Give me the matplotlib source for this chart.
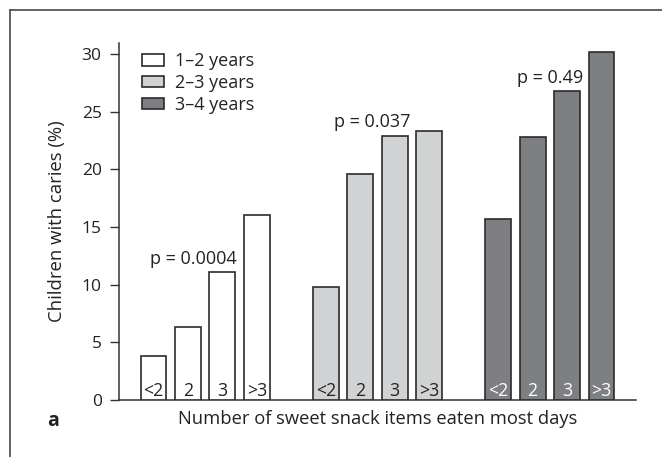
import matplotlib
matplotlib.use("Agg")
import matplotlib.pyplot as plt
from matplotlib.patches import Patch
from matplotlib.lines import Line2D

plt.rcParams['font.family'] = ['Open Sans', 'DejaVu Sans']

age_groups = ["1\u20132 years", "2\u20133 years", "3\u20134 years"]
snack_levels = ["<2", "2", "3", ">3"]
caries_pct = [
    [3.8, 6.3, 11.1, 16.0],
    [9.8, 19.6, 22.9, 23.3],
    [15.7, 22.8, 26.8, 30.2],
]
p_values = ["p = 0.0004", "p = 0.037", "p = 0.49"]
y_ticks = [0, 5, 10, 15, 20, 25, 30]

fills = ["#ffffff", "#d1d2d4", "#7e7f83"]
label_colors = ["#222222", "#222222", "#ffffff"]
edge = "#2b2b2b"
txt = "#222222"

W, H = 662, 457
fig = plt.figure(figsize=(W / 100, H / 100), dpi=100)

# outer panel frame (top and left edges)
fig.add_artist(Line2D([10 / W, 1.0], [1 - 10 / H, 1 - 10 / H], color="#555555", lw=1.3))
fig.add_artist(Line2D([10 / W, 10 / W], [0.0, 1 - 10 / H], color="#555555", lw=1.3))

ax = fig.add_axes([119 / W, 1 - 400 / H, (636 - 119) / W, (400 - 43) / H])

bar_w = 0.75
handles = []
for g, vals in enumerate(caries_pct):
    xs = [g * 5 + i for i in range(len(vals))]
    ax.bar(xs, vals, width=bar_w, color=fills[g], edgecolor=edge, linewidth=1.2, zorder=3)
    for x, lab in zip(xs, snack_levels):
        ax.text(x, 0.35, lab, ha="center", va="baseline", fontsize=12.8,
                color=label_colors[g], zorder=4)
    handles.append(Patch(facecolor=fills[g], edgecolor=edge, linewidth=1.2, label=age_groups[g]))

# p-value annotations (trend test per age group)
p_pos = [(1.17, 11.75), (6.34, 23.7), (11.52, 27.5)]
for (px, py), ptxt in zip(p_pos, p_values):
    ax.text(px, py, ptxt, ha="center", va="baseline", fontsize=13, color=txt)

ax.set_xlim(-1, 14)
ax.set_ylim(0, 30.94)
ax.set_yticks(y_ticks)
ax.set_xticks([])
for s in ["top", "right"]:
    ax.spines[s].set_visible(False)
for s in ["left", "bottom"]:
    ax.spines[s].set_color("#333333")
    ax.spines[s].set_linewidth(1.1)
ax.tick_params(axis="y", direction="out", length=6.5, width=1.0, colors="#333333",
               labelsize=12.5, labelcolor=txt, pad=6)

ax.set_ylabel("Children with caries (%)", fontsize=13.3, color=txt, labelpad=11)
ax.set_xlabel("Number of sweet snack items eaten most days", fontsize=13.2,
              color=txt, labelpad=7)
fig.text(47 / W, 1 - 421 / H, "a", fontsize=14, fontweight="bold", color=txt,
         ha="left", va="center")

leg = ax.legend(handles=handles, loc="upper left", bbox_to_anchor=(0.031, 0.995),
                frameon=False, fontsize=13, handlelength=1.22, handleheight=0.62,
                handletextpad=0.62, labelspacing=0.22, borderaxespad=0.0)
for t in leg.get_texts():
    t.set_color(txt)

fig.savefig("out.png", dpi=100)
